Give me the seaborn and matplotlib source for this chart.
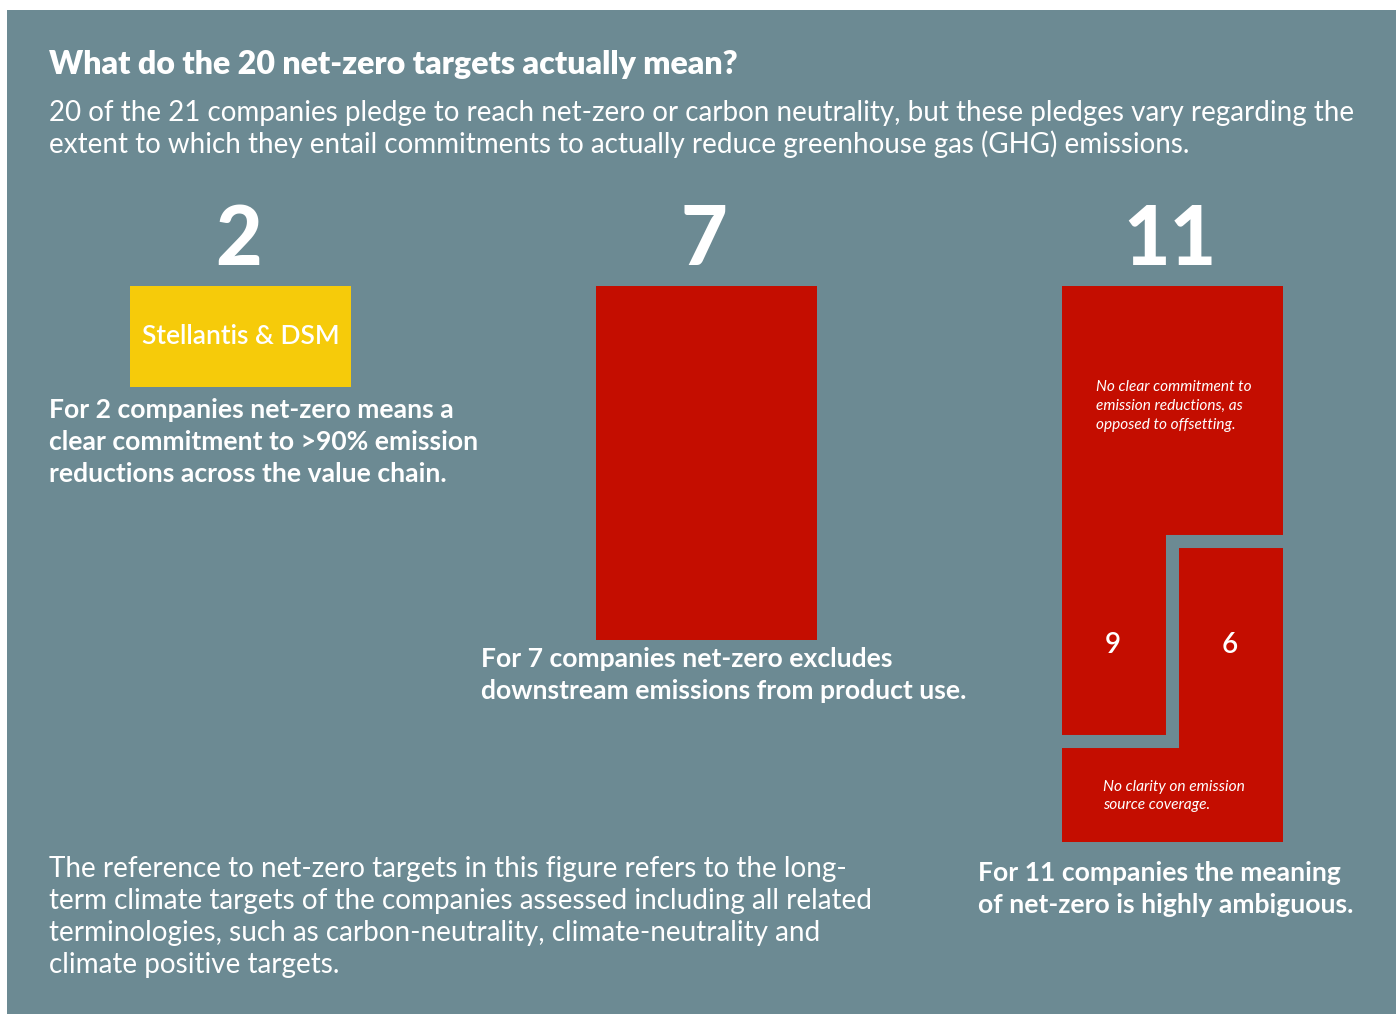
import matplotlib
matplotlib.use("Agg")
import matplotlib.pyplot as plt
from matplotlib.patches import Rectangle
import seaborn as sns

# data
groups = ["clear commitment", "excludes downstream", "highly ambiguous"]
counts = [2, 7, 11]
bar_colors = ["#F6CB0A", "#C40D00", "#C40D00"]
no_clear_commitment = 9   # of the 11 ambiguous targets
no_clear_coverage = 6     # of the 11 ambiguous targets

title = "What do the 20 net-zero targets actually mean?"
subtitle = ["20 of the 21 companies pledge to reach net-zero or carbon neutrality, but these pledges vary regarding the",
            "extent to which they entail commitments to actually reduce greenhouse gas (GHG) emissions."]
left_note = ["For 2 companies net-zero means a",
             "clear commitment to >90% emission",
             "reductions across the value chain."]
mid_note = ["For 7 companies net-zero excludes",
            "downstream emissions from product use."]
right_note = ["For 11 companies the meaning",
              "of net-zero is highly ambiguous."]
foot_note = ["The reference to net-zero targets in this figure refers to the long-",
             "term climate targets of the companies assessed including all related",
             "terminologies, such as carbon-neutrality, climate-neutrality and",
             "climate positive targets."]
commit_note = ["No clear commitment to", "emission reductions, as", "opposed to offsetting."]
coverage_note = ["No clarity on emission", "source coverage."]

sns.set_style("white")
plt.rcParams['font.family'] = ['Lato', 'DejaVu Sans']

W, H = 1396, 1014
PANEL = "#6C8A93"


def fx(x):
    return x / W


def fy(y):
    return 1 - y / H


fig = plt.figure(figsize=(W / 100, H / 100), dpi=100, facecolor="white")
fig.add_artist(Rectangle((fx(7), 0), 1, fy(10), transform=fig.transFigure,
                         facecolor=PANEL, edgecolor="none", zorder=0))

# bars hang down from the same top line, ~50 px per company
unit = 50.5
top = 286
ymin, ymax = -1.5, 12
ax = fig.add_axes([fx(7), fy(top + ymax * unit), fx(W) - fx(7), (ymax - ymin) * unit / H])
ax.patch.set_alpha(0)

bar_w = 0.474
sns.barplot(x=groups, y=counts, hue=groups, palette=bar_colors, order=groups,
            hue_order=groups, width=bar_w, saturation=1, dodge=False,
            legend=False, linewidth=0, ax=ax)
ax.set_xlim(-0.501, 2.4796)
ax.set_ylim(ymax, ymin)
ax.axis('off')

# split the 11 bar into the two (overlapping) kinds of ambiguity
x2 = 2
y_right = counts[2] - no_clear_coverage
y_left = no_clear_commitment
ax.plot([x2 + bar_w / 2 + 0.01, x2, x2, x2 - bar_w / 2 - 0.01],
        [y_right + 0.05, y_right + 0.05, y_left, y_left],
        color=PANEL, lw=9.4, solid_joinstyle='miter', solid_capstyle='butt')
ax.text(x2 - bar_w / 4 - 0.01, (y_right + y_left) / 2 + 0.1, str(no_clear_commitment),
        color="white", fontsize=20, fontweight='semibold', ha='center', va='center')
ax.text(x2 + bar_w / 4 + 0.005, (y_right + y_left) / 2 + 0.1, str(no_clear_coverage),
        color="white", fontsize=20, fontweight='semibold', ha='center', va='center')

# big counts above the bars
for i, c in enumerate(counts):
    ax.text(i - 0.005, -0.42, str(c), color="white", fontsize=58, fontweight='black',
            ha='center', va='baseline', clip_on=False)
ax.text(0, counts[0] / 2, "Stellantis & DSM", color="white", fontsize=19,
        fontweight='semibold', ha='center', va='center')

# texts
fig.text(fx(49), fy(74), title, color="white", fontsize=23.1, fontweight='heavy', va='baseline')


def block(lines, x, y0, step, **kw):
    for k, line in enumerate(lines):
        fig.text(fx(x), fy(y0 + k * step), line, color="white", va='baseline', **kw)


block(subtitle, 49, 121, 32, fontsize=20)
block(left_note, 49, 418, 32, fontsize=19.1, fontweight='bold')
block(mid_note, 481, 667, 32, fontsize=19.1, fontweight='bold')
block(right_note, 978, 881, 32, fontsize=19.1, fontweight='bold')
block(foot_note, 49, 877, 32, fontsize=20.1)
block(commit_note, 1096, 391, 19, fontsize=11.1, style='italic')
block(coverage_note, 1103, 791, 18, fontsize=11.2, style='italic')

fig.savefig("out.png", dpi=100)
